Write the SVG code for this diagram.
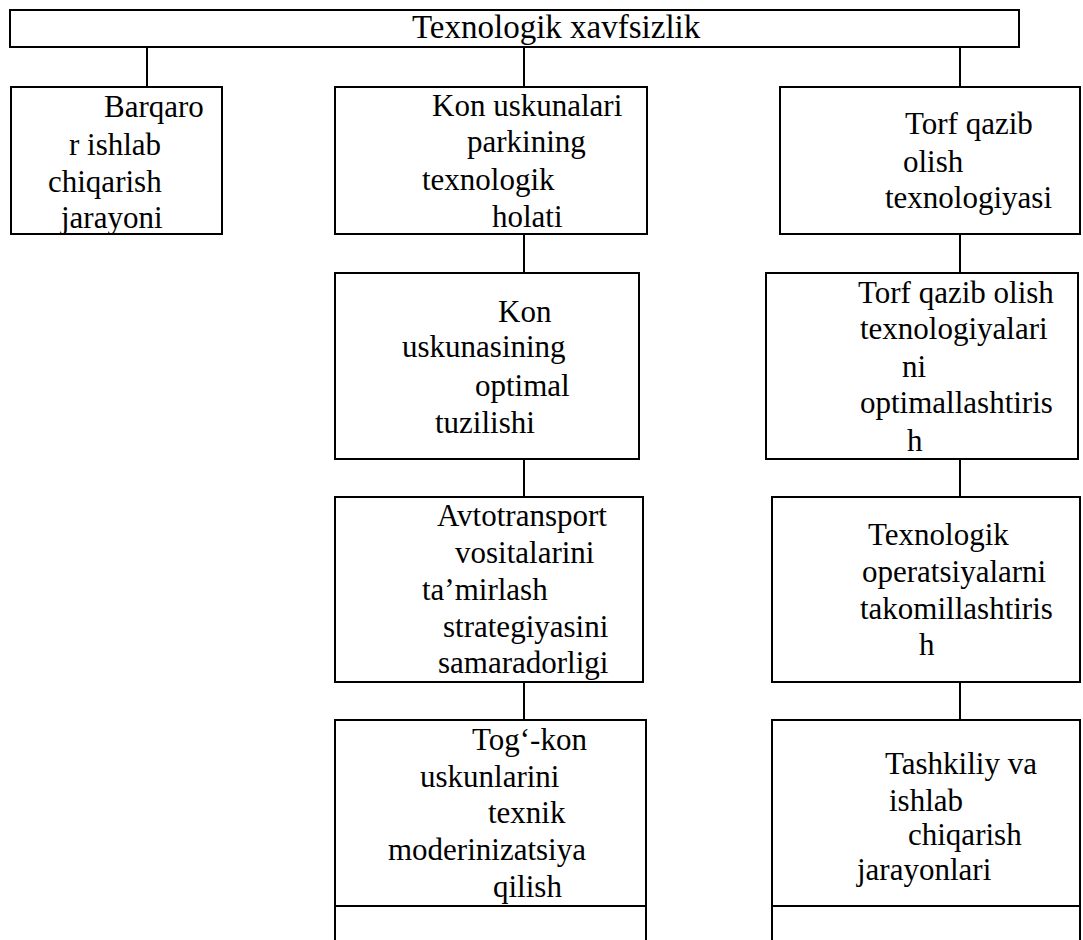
<svg xmlns="http://www.w3.org/2000/svg" width="1083" height="940" viewBox="0 0 1083 940">
<style>
.b{fill:#fff;stroke:#000;stroke-width:2}
.c{fill:none;stroke:#000;stroke-width:2}
text{font-family:"Liberation Serif","Times New Roman",serif;font-size:31px;fill:#000}
.t{font-size:33px}
</style>
<rect width="1083" height="940" fill="#fff"/>
<g id="connectors">
<line class="c" x1="147" y1="47" x2="147" y2="87"/>
<line class="c" x1="524" y1="47" x2="524" y2="87"/>
<line class="c" x1="960" y1="47" x2="960" y2="87"/>
<line class="c" x1="524" y1="234" x2="524" y2="273"/>
<line class="c" x1="960" y1="234" x2="960" y2="273"/>
<line class="c" x1="524" y1="459" x2="524" y2="497"/>
<line class="c" x1="960" y1="459" x2="960" y2="497"/>
<line class="c" x1="524" y1="682" x2="524" y2="720"/>
<line class="c" x1="960" y1="682" x2="960" y2="720"/>
</g>
<g id="root">
<rect class="b" x="10" y="10" width="1009" height="37"/>
<text class="t" x="412" y="38">Texnologik xavfsizlik</text>
</g>
<g id="n1">
<rect class="b" x="11" y="87" width="211" height="147"/>
<text x="104" y="117">Barqaro</text>
<text x="69" y="155">r ishlab</text>
<text x="48" y="192">chiqarish</text>
<text x="61" y="228">jarayoni</text>
</g>
<g id="n2">
<rect class="b" x="335" y="87" width="312" height="147"/>
<text x="432" y="116">Kon uskunalari</text>
<text x="467" y="152">parkining</text>
<text x="422" y="190">texnologik</text>
<text x="492" y="227">holati</text>
</g>
<g id="n3">
<rect class="b" x="780" y="87" width="300" height="147"/>
<text x="905" y="134">Torf qazib</text>
<text x="903" y="172">olish</text>
<text x="885" y="208">texnologiyasi</text>
</g>
<g id="n4">
<rect class="b" x="335" y="273" width="304" height="186"/>
<text x="498" y="322">Kon</text>
<text x="402" y="357">uskunasining</text>
<text x="475" y="396">optimal</text>
<text x="435" y="433">tuzilishi</text>
</g>
<g id="n5">
<rect class="b" x="766" y="273" width="312" height="186"/>
<text x="858" y="303">Torf qazib olish</text>
<text x="860" y="339">texnologiyalari</text>
<text x="902" y="377">ni</text>
<text x="860" y="413">optimallashtiris</text>
<text x="907" y="451">h</text>
</g>
<g id="n6">
<rect class="b" x="335" y="497" width="308" height="185"/>
<text x="437" y="526">Avtotransport</text>
<text x="455" y="563">vositalarini</text>
<text x="422" y="600">ta’mirlash</text>
<text x="443" y="637">strategiyasini</text>
<text x="438" y="673">samaradorligi</text>
</g>
<g id="n7">
<rect class="b" x="772" y="497" width="308" height="185"/>
<text x="868" y="545">Texnologik</text>
<text x="862" y="582">operatsiyalarni</text>
<text x="860" y="619">takomillashtiris</text>
<text x="919" y="655">h</text>
</g>
<g id="n8">
<rect class="b" x="335" y="720" width="311" height="186"/>
<text x="472" y="750">Tog‘-kon</text>
<text x="420" y="787">uskunlarini</text>
<text x="488" y="823">texnik</text>
<text x="388" y="860">moderinizatsiya</text>
<text x="493" y="897">qilish</text>
<path class="c" d="M335 906 V941 M646 906 V941"/>
</g>
<g id="n9">
<rect class="b" x="772" y="720" width="308" height="186"/>
<text x="885" y="774">Tashkiliy va</text>
<text x="889" y="811">ishlab</text>
<text x="908" y="845">chiqarish</text>
<text x="857" y="880">jarayonlari</text>
<path class="c" d="M772 906 V941 M1080 906 V941"/>
</g>
</svg>
